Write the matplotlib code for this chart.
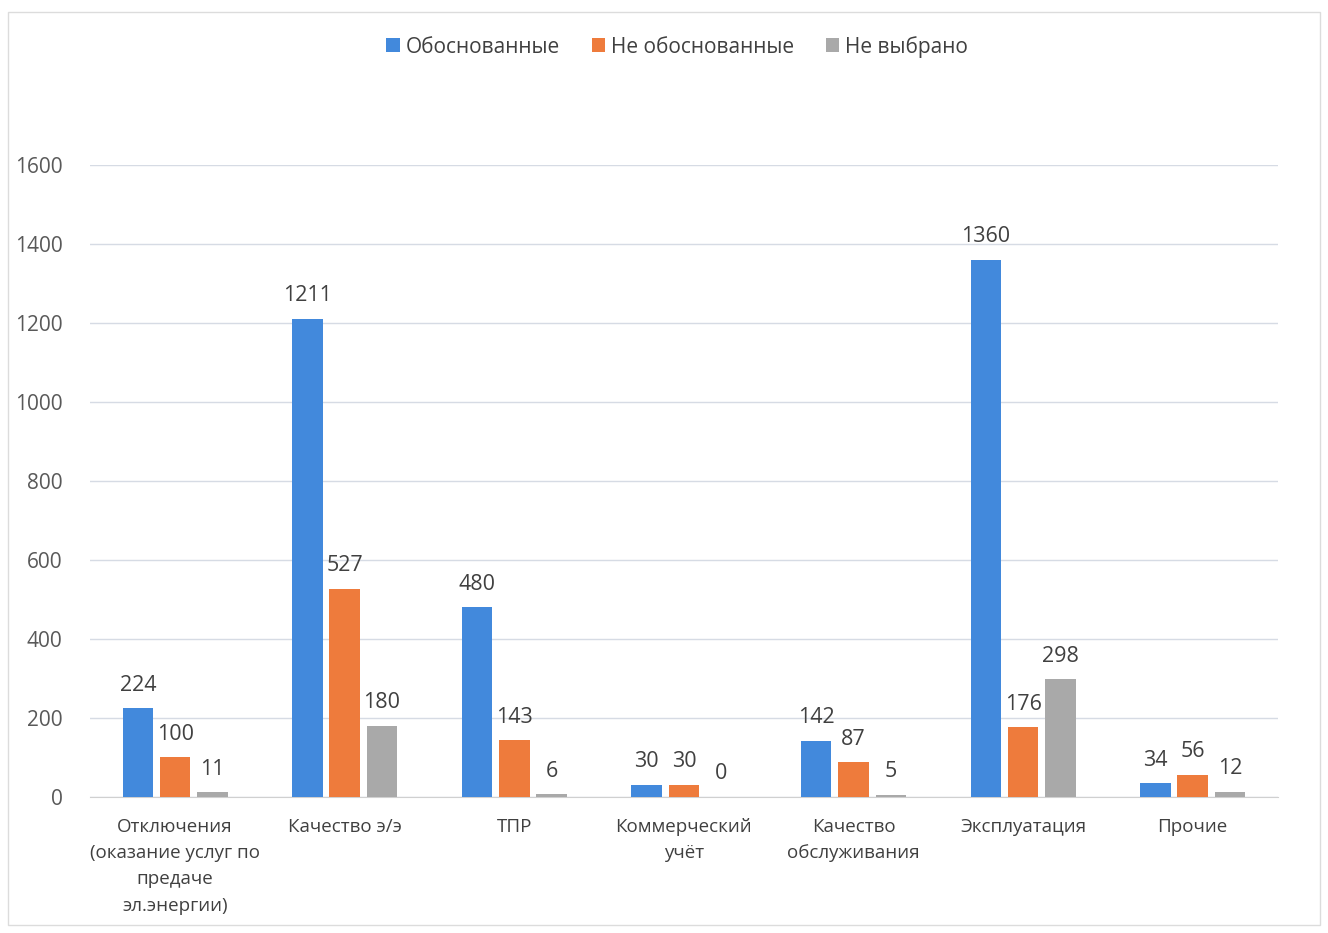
import matplotlib
matplotlib.use("Agg")
import matplotlib.pyplot as plt
from matplotlib.patches import Rectangle
import numpy as np

plt.rcParams['font.family'] = ['Open Sans', 'DejaVu Sans']

categories = ['Отключения\n(оказание услуг по\nпредаче\nэл.энергии)',
              'Качество э/э', 'ТПР', 'Коммерческий\nучёт',
              'Качество\nобслуживания', 'Эксплуатация', 'Прочие']
justified = [224, 1211, 480, 30, 142, 1360, 34]
unjustified = [100, 527, 143, 30, 87, 176, 56]
not_chosen = [11, 180, 6, 0, 5, 298, 12]
series_names = ['Обоснованные', 'Не обоснованные', 'Не выбрано']
colors = ['#4289dc', '#ee7b3c', '#a9a9a9']

fig = plt.figure(figsize=(13.28, 9.33), dpi=100)
ax = fig.add_axes([0.068, 0.146, 0.894, 0.677])

x = np.arange(len(categories))
width = 0.18
step = 0.22
series = [justified, unjustified, not_chosen]
for i, (vals, name, col) in enumerate(zip(series, series_names, colors)):
    pos = x + (i - 1) * step
    ax.bar(pos, vals, width, color=col, label=name, zorder=3)
    for p, v in zip(pos, vals):
        ax.text(p, v + 32, str(v), ha='center', va='bottom', fontsize=15.5,
                color='#404040', zorder=4)

ax.set_xlim(-0.5, len(categories) - 0.5)
ax.set_ylim(0, 1600)
ax.set_yticks(np.arange(0, 1601, 200))
ax.yaxis.grid(True, color='#d6dbe4', linewidth=1, zorder=0)
ax.tick_params(axis='y', length=0, labelsize=15, labelcolor='#595959', pad=20)
ax.set_xticks(x)
ax.set_xticklabels(categories, fontsize=13.5, color='#404040', linespacing=1.6)
ax.tick_params(axis='x', length=0, pad=15)
for s in ['top', 'right', 'left']:
    ax.spines[s].set_visible(False)
ax.spines['bottom'].set_color('#d0d0d0')

ax.legend(loc='center', bbox_to_anchor=(0.51, 0.95), ncol=3,
          frameon=False, fontsize=15, handlelength=0.65, handleheight=0.65,
          handletextpad=0.3, columnspacing=1.5,
          labelcolor='#404040', bbox_transform=fig.transFigure)

# faint outer frame
fig.patches.append(Rectangle((0.006, 0.009), 0.988, 0.978, transform=fig.transFigure,
                             fill=False, edgecolor='#dcdcdc', linewidth=1))

fig.savefig('out.png', dpi=100, facecolor='white')
